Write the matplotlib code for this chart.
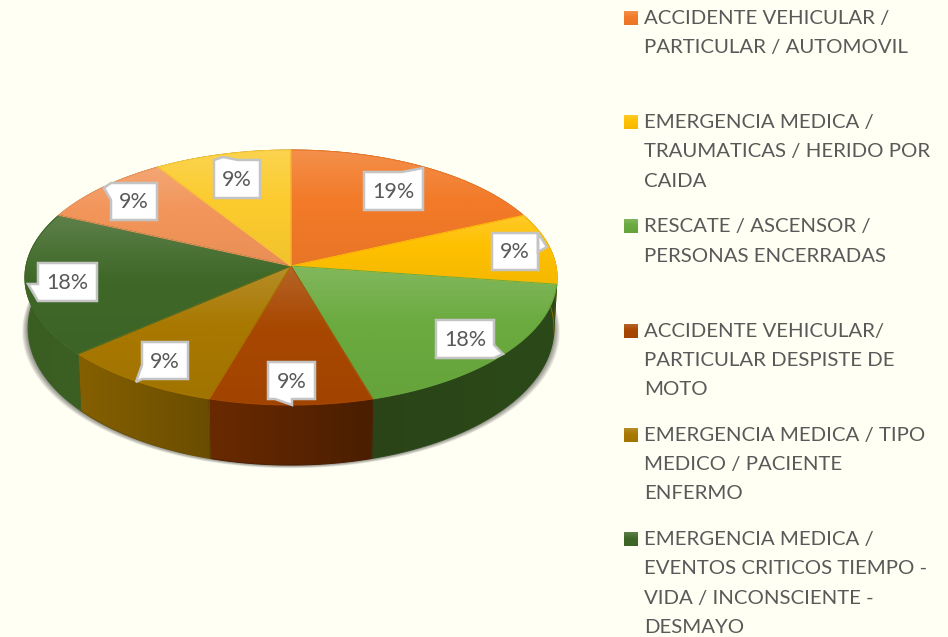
import numpy as np
import matplotlib
matplotlib.use('Agg')
import matplotlib.pyplot as plt
import matplotlib.patches as patches
from matplotlib.colors import to_rgb

plt.rcParams['font.family'] = ['Lato', 'DejaVu Sans']

###### data, clockwise from 12 o'clock ######
slice_values = [18.2, 9.1, 18.2, 9.1, 9.1, 18.2, 9.1, 9.1]
slice_labels = ['19%', '9%', '18%', '9%', '9%', '18%', '9%', '9%']
slice_colors = ['#F27A28', '#FFC000', '#6AAA3E', '#A84700',
                '#A87800', '#3F6828', '#F2955A', '#FBCB2E']
wall_left = ['#8A4A1A', '#8A6A00', '#2A4418', '#6A2A00',
             '#856000', '#3A5E22', '#8A5530', '#8A7020']
wall_right = ['#8A4A1A', '#8A6A00', '#2C4A18', '#4A1E00',
              '#6A4D00', '#3C6024', '#8A5530', '#8A7020']

legend_labels = [
    ['ACCIDENTE VEHICULAR /', 'PARTICULAR / AUTOMOVIL'],
    ['EMERGENCIA MEDICA /', 'TRAUMATICAS / HERIDO POR', 'CAIDA'],
    ['RESCATE / ASCENSOR /', 'PERSONAS ENCERRADAS'],
    ['ACCIDENTE VEHICULAR/', 'PARTICULAR DESPISTE DE', 'MOTO'],
    ['EMERGENCIA MEDICA / TIPO', 'MEDICO / PACIENTE', 'ENFERMO'],
    ['EMERGENCIA MEDICA /', 'EVENTOS CRITICOS TIEMPO -', 'VIDA / INCONSCIENTE -', 'DESMAYO'],
]

###### layout, in pixels of the picture ######
bg = '#FFFFF3'
cx, cy = 291, 266
rad_x, rad_y, persp = 265, 126.5, 0.0905
wall_depth, wall_tilt, wall_shrink = 50, 10, 0.988

# label boxes: x0, y0, x1, y1 and the callout outline points after the corner
label_boxes = [
    (364, 172, 423, 210, [(402, 172), (423, 168)]),
    (492, 233, 538, 270, [(538, 233), (547, 247), (538, 252)]),
    (436, 320, 494, 358, [(494, 345), (503, 354), (494, 358)]),
    (268, 362, 315, 399, [(292, 399), (292, 405), (275, 399)]),
    (142, 342, 188, 379, [(142, 379), (136, 382), (142, 365)]),
    (38, 263, 97, 301, [(38, 301), (28, 284), (38, 284)]),
    (111, 183, 157, 220, [(111, 200), (104, 188), (111, 183)]),
    (214, 160, 260, 198, [(214, 160), (223, 157), (238, 160)]),
]

legend_x, legend_y, legend_step, line_step = 644, 18, 104.2, 29.3
legend_size, label_size = 14.7, 15.5
text_color = '#595959'


# Project an angle on the pie (clockwise from the top) to picture pixels
def top_xy(theta):
    s, c = np.sin(theta), np.cos(theta)
    d = 1 + persp * c
    return cx + rad_x * s / d, cy - rad_y * c / d


# Same thing for the lower rim of the wall
def bottom_xy(theta):
    x, y = top_xy(theta)
    return cx + (x - cx) * wall_shrink, y + wall_depth - wall_tilt * np.cos(theta)


# Vertical ramp for a top face: pale on top, plain color below
def face_ramp(color, n=80):
    base = np.array(to_rgb(color))
    t = np.linspace(0, 1, n)
    w = np.clip(1 - t / 0.45, 0, 1) * 0.16
    dark = 1 - np.clip((t - 0.5) / 0.5, 0, 1) * 0.04
    return ((base * (1 - w[:, None]) + w[:, None]) * dark[:, None])[:, None, :]


# Fill a polygon with an image clipped to it
def fill_gradient(ax, pts, img, edge, zorder):
    poly = patches.Polygon(pts, closed=True, facecolor='none', edgecolor='none',
                           transform=ax.transData)
    ax.add_patch(poly)
    x0, y0 = pts.min(axis=0)
    x1, y1 = pts.max(axis=0)
    im = ax.imshow(img, extent=(x0, x1, y1, y0), aspect='auto', origin='upper',
                   interpolation='bilinear', zorder=zorder)
    im.set_clip_path(poly)
    ax.add_patch(patches.Polygon(pts, closed=True, facecolor='none', edgecolor=edge,
                                 linewidth=0.7, zorder=zorder + 0.1))


fig = plt.figure(figsize=(9.48, 6.37), dpi=100, facecolor=bg)
ax = fig.add_axes([0, 0, 1, 1])
ax.set_xlim(0, 948)
ax.set_ylim(637, 0)
ax.axis('off')

bounds = 2 * np.pi * np.concatenate(([0], np.cumsum(slice_values))) / np.sum(slice_values)

# soft shadow under the front of the wall, wider at the sides than at the bottom
ring = np.linspace(np.pi * 0.42, np.pi * 1.58, 200)
for i in range(1, 8):
    bx, by = bottom_xy(ring)
    sx = cx + (bx - cx) * (1 + i * 0.0032)
    sy = by + i * 0.45
    tx, ty = top_xy(ring)
    ax.fill(np.concatenate((sx, tx[::-1])), np.concatenate((sy, ty[::-1])),
            color='#202020', alpha=0.085, linewidth=0, zorder=1)

# walls
for i in range(len(slice_values)):
    th = np.linspace(bounds[i], bounds[i + 1], 60)
    tx, ty = top_xy(th)
    bx, by = bottom_xy(th)
    pts = np.column_stack((np.concatenate((tx, bx[::-1])), np.concatenate((ty, by[::-1]))))
    ramp = np.linspace(to_rgb(wall_left[i]), to_rgb(wall_right[i]), 60)[None, :, :]
    fill_gradient(ax, pts, ramp, wall_right[i], 2)

# top faces
for i in range(len(slice_values)):
    th = np.linspace(bounds[i], bounds[i + 1], 60)
    tx, ty = top_xy(th)
    pts = np.column_stack((np.concatenate(([cx], tx)), np.concatenate(([cy], ty))))
    fill_gradient(ax, pts, face_ramp(slice_colors[i]), slice_colors[i], 3)

# data labels with their callouts
for text, (x0, y0, x1, y1, tip) in zip(slice_labels, label_boxes):
    # slot the callout points into the box outline on the side they start from
    first = tip[0]
    if first[1] == y0 and first[0] > x0:
        outline = [(x0, y0)] + tip + [(x1, y0), (x1, y1), (x0, y1)]
    elif first[1] == y0:
        outline = tip + [(x1, y0), (x1, y1), (x0, y1)]
    elif first[0] == x1:
        outline = [(x0, y0), (x1, y0)] + tip + [(x1, y1), (x0, y1)]
    elif first[1] == y1 and first[0] > x0:
        outline = [(x0, y0), (x1, y0), (x1, y1)] + tip + [(x0, y1)]
    elif first[1] == y1:
        outline = [(x0, y0), (x1, y0), (x1, y1)] + tip
    else:
        outline = [(x1, y0), (x1, y1), (x0, y1)] + tip + [(x0, y0)]
    ax.add_patch(patches.Polygon(outline, closed=True, facecolor='white',
                                 edgecolor='#C4C4C4', linewidth=1.8, zorder=5,
                                 joinstyle='miter'))
    ax.text((x0 + x1) / 2, (y0 + y1) / 2 + 1, text, color=text_color, fontsize=label_size,
            ha='center', va='center', zorder=6)

# legend, swatch gradients like the top faces
for i, lines in enumerate(legend_labels):
    y = legend_y + i * legend_step
    sw = face_ramp(slice_colors[i])
    ax.imshow(sw, extent=(624, 638, y + 7, y - 7), aspect='auto', origin='upper',
              interpolation='bilinear', zorder=3)
    for j, line in enumerate(lines):
        ax.text(legend_x, y + j * line_step + 0.5, line, color=text_color, fontsize=legend_size,
                ha='left', va='center', zorder=6)

fig.savefig('out.png', dpi=100, facecolor=bg)
